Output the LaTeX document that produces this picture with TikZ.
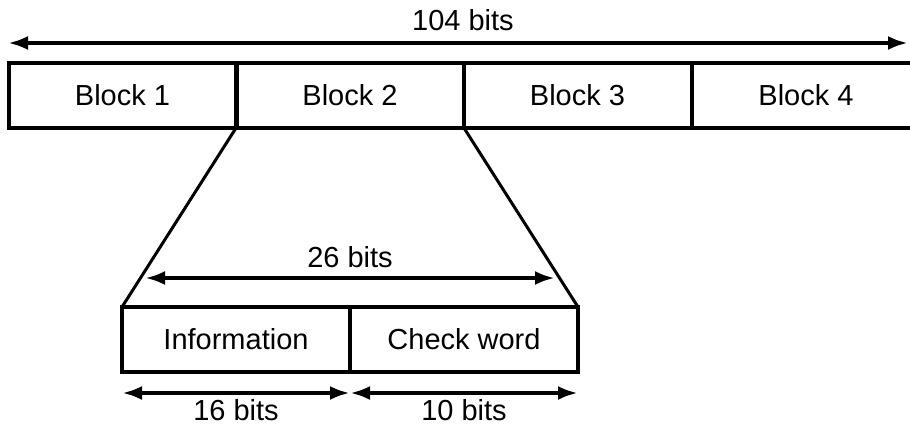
\documentclass[tikz,border=0pt]{standalone}
\usepackage{fontspec}
\setmainfont{Liberation Sans}
\usetikzlibrary{arrows.meta}
\begin{document}
\begin{tikzpicture}[x=1pt,y=-1pt,
  blockbox/.style={draw, line width=4pt, minimum width=228pt, minimum height=65pt, inner sep=0pt, outer sep=0pt, font=\fontsize{29}{32}\selectfont},
  dim/.style={line width=4pt, {Latex[length=20pt,width=14pt]}-{Latex[length=20pt,width=14pt]}},
  lbl/.style={font=\fontsize{29}{32}\selectfont, inner sep=0pt},
  slant/.style={line width=3pt}]
\useasboundingbox (0,0) rectangle (910,425);
\clip (0,0) rectangle (910,425);
\node[blockbox] (b1) at (122.5,95.5) {Block 1};
\node[blockbox] (b2) at (350,95.5) {Block 2};
\node[blockbox] (b3) at (577.5,95.5) {Block 3};
\node[blockbox, minimum width=260pt] (b4) at (822,95.5) {};
\node[font=\fontsize{29}{32}\selectfont] (b4t) at (806,95.5) {Block 4};
\node[blockbox] (info) at (236,339.5) {Information};
\node[blockbox] (check) at (464,339.5) {Check word};
\draw[slant] (b2.south west) -- (info.north west);
\draw[slant] (b2.south east) -- (check.north east);
\coordinate (tl) at (8,43);
\coordinate (tr) at (908,43);
\draw[dim] (tl) -- (tr);
\node[lbl] (t104) at (463,20) {104 bits};
\coordinate (ml) at (145,278);
\coordinate (mr) at (555,278);
\draw[dim] (ml) -- (mr);
\node[lbl] (t26) at (350,257) {26 bits};
\coordinate (bl) at (122,393);
\coordinate (bm) at (350,393);
\coordinate (br) at (578,393);
\draw[dim] (bl) -- (bm);
\draw[dim] (bm) -- (br);
\node[lbl] (t16) at (236,410) {16 bits};
\node[lbl] (t10) at (464,410) {10 bits};
\end{tikzpicture}
\end{document}
